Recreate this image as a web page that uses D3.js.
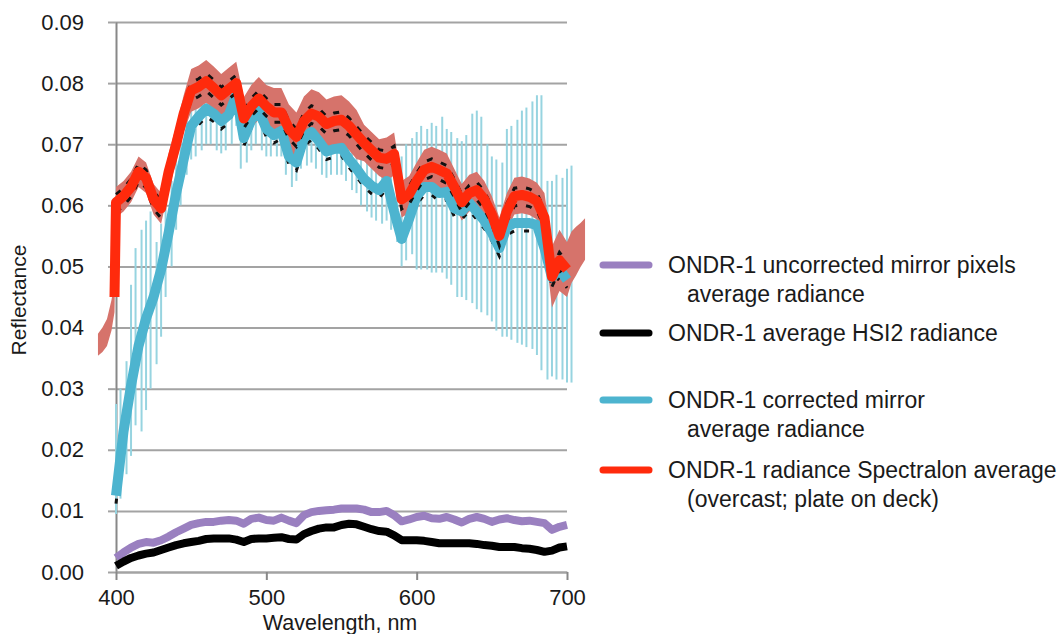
<!DOCTYPE html>
<html>
<head>
<meta charset="utf-8">
<script src="https://cdn.jsdelivr.net/npm/d3@7"></script>
<style>
body { margin: 0; background: #fff; }
svg text { font-family: "Liberation Sans", Arial, sans-serif; fill: #1a1a1a; }
</style>
</head>
<body>
<div id="chart"></div>
<script>
// wavelengths for the four main curves, nm
var nm = [400,405,410,415,420,425,430,435,440,445,450,455,460,465,470,475,480,485,490,495,
	500,505,510,515,520,525,530,535,540,545,550,555,560,565,570,575,580,585,590,595,
	600,605,610,615,620,625,630,635,640,645,650,655,660,665,670,675,680,685,690,695,700];

var uncorrectedMirror = [0.0023,0.0032,0.0040,0.0046,0.0049,0.0048,0.0052,0.0058,0.0065,0.0071,
	0.0077,0.0080,0.0082,0.0082,0.0084,0.0085,0.0084,0.0079,0.0087,0.0089,
	0.0085,0.0084,0.0089,0.0084,0.0080,0.0093,0.0098,0.0100,0.0101,0.0102,
	0.0104,0.0104,0.0104,0.0102,0.0098,0.0098,0.0100,0.0093,0.0083,0.0086,
	0.0090,0.0092,0.0088,0.0087,0.0090,0.0086,0.0081,0.0087,0.0090,0.0087,
	0.0082,0.0086,0.0088,0.0085,0.0083,0.0084,0.0082,0.0080,0.0069,0.0074,0.0077];

var hsi2 = [0.0010,0.0017,0.0023,0.0027,0.0030,0.0032,0.0036,0.0040,0.0044,0.0047,
	0.0049,0.0051,0.0054,0.0055,0.0055,0.0055,0.0053,0.0049,0.0054,0.0055,
	0.0055,0.0056,0.0057,0.0054,0.0053,0.0062,0.0067,0.0071,0.0073,0.0073,
	0.0077,0.0079,0.0078,0.0074,0.0070,0.0067,0.0066,0.0060,0.0052,0.0052,
	0.0052,0.0051,0.0049,0.0047,0.0047,0.0047,0.0047,0.0047,0.0046,0.0044,
	0.0043,0.0041,0.0041,0.0041,0.0039,0.0038,0.0036,0.0033,0.0035,0.0040,0.0042];

var correctedMirror = [0.0125,0.0230,0.0305,0.0370,0.0415,0.0450,0.0495,0.0555,0.0620,0.0675,
	0.0730,0.0745,0.0758,0.0750,0.0738,0.0748,0.0780,0.0710,0.0740,0.0755,
	0.0725,0.0715,0.0722,0.0680,0.0670,0.0710,0.0720,0.0705,0.0688,0.0692,
	0.0694,0.0675,0.0660,0.0643,0.0632,0.0625,0.0640,0.0590,0.0545,0.0578,
	0.0615,0.0630,0.0630,0.0620,0.0622,0.0595,0.0590,0.0604,0.0590,0.0575,
	0.0555,0.0530,0.0565,0.0571,0.0571,0.0571,0.0568,0.0530,0.0482,0.0495,0.0478];

// spectralon runs a little past the axis on both sides
var spectralonNm = [388,391,394,397,399,
	400,405,410,415,420,425,430,435,440,445,450,455,460,465,470,475,480,485,490,495,
	500,505,510,515,520,525,530,535,540,545,550,555,560,565,570,575,580,585,590,595,
	600,605,610,615,620,625,630,635,640,645,650,655,660,665,670,675,680,685,690,695,700,
	703,706,709,712];

var spectralon = [0.0372,0.0380,0.0392,0.0420,0.0450,
	0.0605,0.0615,0.0630,0.0655,0.0645,0.0610,0.0595,0.0655,0.0700,0.0750,
	0.0788,0.0794,0.0803,0.0792,0.0780,0.0790,0.0800,0.0742,0.0762,0.0775,
	0.0762,0.0752,0.0752,0.0725,0.0712,0.0738,0.0750,0.0745,0.0733,0.0738,
	0.0740,0.0730,0.0716,0.0702,0.0690,0.0678,0.0676,0.0684,0.0610,0.0618,
	0.0640,0.0658,0.0663,0.0658,0.0652,0.0630,0.0605,0.0620,0.0625,0.0610,
	0.0585,0.0550,0.0590,0.0615,0.0617,0.0614,0.0607,0.0580,0.0483,0.0510,0.0495,
	0.0515,0.0525,0.0535,0.0545];

var spectralonSd = [0.0018,0.0020,0.0022,0.0025,0.0025,
	0.0025,0.0025,0.0025,0.0025,0.0025,0.0025,0.0025,0.0030,0.0030,0.0030,
	0.0035,0.0035,0.0035,0.0035,0.0035,0.0035,0.0035,0.0035,0.0035,0.0035,
	0.0035,0.0040,0.0040,0.0040,0.0040,0.0040,0.0040,0.0040,0.0040,0.0040,
	0.0040,0.0040,0.0040,0.0030,0.0030,0.0030,0.0035,0.0035,0.0030,0.0030,
	0.0030,0.0033,0.0033,0.0033,0.0033,0.0030,0.0030,0.0030,0.0030,0.0030,
	0.0030,0.0030,0.0030,0.0030,0.0030,0.0030,0.0030,0.0040,0.0050,0.0050,0.0045,
	0.0042,0.0040,0.0036,0.0034];

// error bars of the corrected mirror curve
var barNm = [400,403,407,410,413,417,420,423,427,430,433,437,440,443,447,450,453,457,460,463,
	467,470,473,477,480,483,487,490,493,497,500,503,507,510,513,517,520,523,527,530,
	533,537,540,543,547,550,553,557,560,563,567,570,573,577,580,583,587,590,593,597,
	600,603,607,610,613,617,620,623,627,630,633,637,640,643,647,650,653,657,660,663,
	667,670,673,677,680,683,687,690,693,697,700,703];

var barTop = [0.0275,0.0300,0.0345,0.0470,0.0530,0.0560,0.0575,0.0590,0.0540,0.0570,
	0.0600,0.0640,0.0680,0.0720,0.0750,0.0780,0.0790,0.0800,0.0800,0.0800,
	0.0790,0.0780,0.0790,0.0800,0.0820,0.0770,0.0775,0.0780,0.0790,0.0780,
	0.0760,0.0750,0.0760,0.0760,0.0730,0.0700,0.0710,0.0750,0.0760,0.0760,
	0.0750,0.0740,0.0730,0.0730,0.0740,0.0740,0.0730,0.0710,0.0710,0.0700,
	0.0690,0.0690,0.0690,0.0690,0.0700,0.0690,0.0690,0.0680,0.0700,0.0710,
	0.0720,0.0730,0.0725,0.0735,0.0730,0.0745,0.0725,0.0720,0.0710,0.0705,
	0.0715,0.0750,0.0755,0.0745,0.0700,0.0680,0.0675,0.0670,0.0725,0.0730,
	0.0740,0.0755,0.0760,0.0770,0.0780,0.0780,0.0640,0.0640,0.0650,0.0645,0.0660,0.0665];

var barBottom = [0.0095,0.0120,0.0160,0.0190,0.0240,0.0230,0.0265,0.0300,0.0340,0.0385,
	0.0450,0.0500,0.0560,0.0600,0.0650,0.0675,0.0680,0.0690,0.0700,0.0700,
	0.0690,0.0685,0.0690,0.0700,0.0730,0.0660,0.0670,0.0690,0.0700,0.0690,
	0.0680,0.0680,0.0680,0.0680,0.0650,0.0630,0.0640,0.0660,0.0665,0.0670,
	0.0660,0.0650,0.0645,0.0650,0.0650,0.0650,0.0640,0.0625,0.0620,0.0600,
	0.0590,0.0580,0.0575,0.0570,0.0575,0.0560,0.0540,0.0500,0.0510,0.0520,
	0.0495,0.0495,0.0495,0.0490,0.0490,0.0490,0.0480,0.0470,0.0450,0.0450,
	0.0445,0.0440,0.0430,0.0425,0.0420,0.0410,0.0395,0.0385,0.0385,0.0380,
	0.0375,0.0372,0.0368,0.0365,0.0355,0.0330,0.0315,0.0320,0.0315,0.0315,0.0310,0.0310];

var yTicks = [0, 0.01, 0.02, 0.03, 0.04, 0.05, 0.06, 0.07, 0.08, 0.09];
var xTicks = [400, 500, 600, 700];

var legendLabels = [
	["ONDR-1 uncorrected mirror pixels", "average radiance"],
	["ONDR-1 average HSI2 radiance"],
	["ONDR-1 corrected mirror", "average radiance"],
	["ONDR-1 radiance Spectralon average", "(overcast; plate on deck)"]
];
var legendColors = ["#9a80c0", "#000000", "#4db4cf", "#ff2a0c"];

var width = 1060, height = 634;
var plotLeft = 116, plotRight = 567, plotTop = 22, plotBottom = 572;
var axisFont = 22;

var svg = d3.select("#chart").append("svg")
	.attr("width", width)
	.attr("height", height);

var x = d3.scaleLinear().domain([400, 700]).range([plotLeft, plotRight]);
var y = d3.scaleLinear().domain([0, 0.09]).range([plotBottom, plotTop]);

// gridlines
svg.append("g")
	.attr("transform", "translate(" + plotLeft + ",0)")
	.call(d3.axisLeft(y).tickValues(yTicks).tickSize(-(plotRight - plotLeft)).tickFormat(""))
	.call(g => g.select(".domain").remove())
	.call(g => g.selectAll("line").attr("stroke", "#a3a3a3").attr("stroke-width", 2));

// y axis with labels
svg.append("g")
	.attr("transform", "translate(" + plotLeft + ",0)")
	.call(d3.axisLeft(y).tickValues(yTicks).tickSize(8).tickSizeOuter(0).tickPadding(24).tickFormat(d3.format(".2f")))
	.call(g => g.select(".domain").attr("stroke", "#888").attr("stroke-width", 2))
	.call(g => g.selectAll("line").attr("stroke", "#a3a3a3").attr("stroke-width", 2))
	.call(g => g.selectAll("text").attr("font-size", axisFont).style("font-family", "'Liberation Sans', Arial, sans-serif").attr("fill", "#1a1a1a"));

// x axis
svg.append("g")
	.attr("transform", "translate(0," + plotBottom + ")")
	.call(d3.axisBottom(x).tickValues(xTicks).tickSize(8).tickSizeOuter(0).tickPadding(9))
	.call(g => g.select(".domain").attr("stroke", "#a3a3a3").attr("stroke-width", 2))
	.call(g => g.selectAll("line").attr("stroke", "#888").attr("stroke-width", 2))
	.call(g => g.selectAll("text").attr("font-size", axisFont).style("font-family", "'Liberation Sans', Arial, sans-serif").attr("fill", "#1a1a1a"));

svg.append("text")
	.attr("transform", "translate(26,300) rotate(-90)")
	.attr("text-anchor", "middle")
	.attr("font-size", 21)
	.text("Reflectance");

svg.append("text")
	.attr("x", 340)
	.attr("y", 630)
	.attr("text-anchor", "middle")
	.attr("font-size", 21.5)
	.text("Wavelength, nm");

// corrected mirror error bars
var bars = barNm.map((w, i) => ({ w: w, top: barTop[i], bottom: barBottom[i] }));
svg.append("g").selectAll("line")
	.data(bars)
	.enter()
	.append("line")
	.attr("x1", d => x(d.w))
	.attr("x2", d => x(d.w))
	.attr("y1", d => y(d.top))
	.attr("y2", d => y(d.bottom))
	.attr("stroke", "#97d4e0")
	.attr("stroke-width", 2);

// spectralon spread
var spec = spectralonNm.map((w, i) => ({ w: w, v: spectralon[i], sd: spectralonSd[i] }));
svg.append("path")
	.datum(spec)
	.attr("fill", "#d6736b")
	.attr("d", d3.area()
		.x(d => x(d.w))
		.y0(d => y(d.v - d.sd))
		.y1(d => y(d.v + d.sd)));

var lineOf = function(values, offset) {
	return d3.line()
		.x((d, i) => x(nm[i]))
		.y(d => y(d + (offset || 0)))(values);
};

// corrected mirror curve, with its dark markers just under it
svg.append("path")
	.attr("d", lineOf(correctedMirror, -0.0013))
	.attr("fill", "none")
	.attr("stroke", "#111")
	.attr("stroke-width", 3)
	.attr("stroke-dasharray", "5,10");

svg.append("path")
	.attr("d", lineOf(correctedMirror))
	.attr("fill", "none")
	.attr("stroke", "#4db4cf")
	.attr("stroke-width", 10)
	.attr("stroke-linejoin", "round");

// dark markers either side of the spectralon curve
[0.0013, -0.0016].forEach(off => {
	svg.append("path")
		.attr("d", lineOf(spectralon.slice(5, 66), off))
		.attr("fill", "none")
		.attr("stroke", "#111")
		.attr("stroke-width", 3)
		.attr("stroke-dasharray", "6,9");
});

svg.append("path")
	.datum(spec)
	.attr("fill", "none")
	.attr("stroke", "#ff2a0c")
	.attr("stroke-width", 10)
	.attr("stroke-linejoin", "round")
	.attr("d", d3.line()
		.defined(d => d.w >= 398 && d.w <= 700)
		.x(d => x(d.w))
		.y(d => y(d.v)));

// bottom curves
svg.append("path")
	.attr("d", lineOf(uncorrectedMirror))
	.attr("fill", "none")
	.attr("stroke", "#9a80c0")
	.attr("stroke-width", 8)
	.attr("stroke-linejoin", "round");

svg.append("path")
	.attr("d", lineOf(hsi2))
	.attr("fill", "none")
	.attr("stroke", "#000")
	.attr("stroke-width", 8)
	.attr("stroke-linejoin", "round");

// legend
var legendY = [265, 333, 400, 470];
var legend = svg.append("g");
legendLabels.forEach((lines, i) => {
	legend.append("line")
		.attr("x1", 603).attr("x2", 649)
		.attr("y1", legendY[i]).attr("y2", legendY[i])
		.attr("stroke", legendColors[i])
		.attr("stroke-width", 7)
		.attr("stroke-linecap", "round");
	lines.forEach((t, j) => {
		legend.append("text")
			.attr("x", j == 0 ? 668 : 687)
			.attr("y", legendY[i] + 8 + j * 29)
			.attr("font-size", 23)
			.text(t);
	});
});
</script>
</body>
</html>
